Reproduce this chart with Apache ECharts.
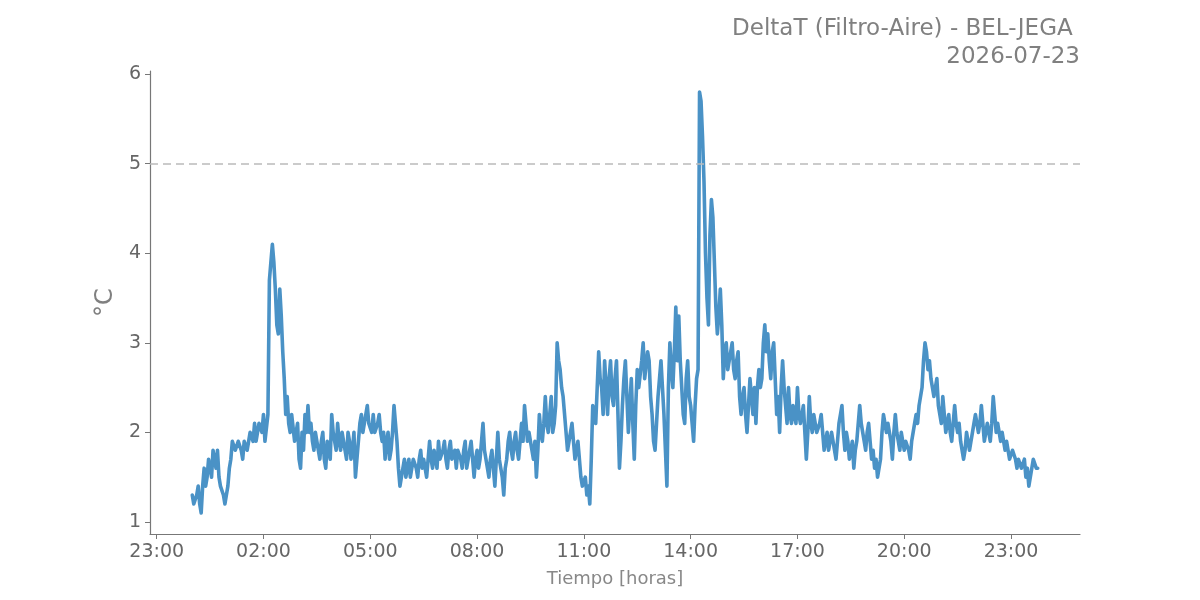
<!DOCTYPE html>
<html lang="es">
<head>
    <meta charset="UTF-8">
    <title>DeltaT</title>
    <style>
        body { margin: 0; background: #fff; }
        #chart { width: 1200px; height: 600px; }
    </style>
</head>
<body>
<div id="chart"></div>
<script src="https://cdn.jsdelivr.net/npm/echarts@6/dist/echarts.min.js"></script>
<script>
    // lecturas a las hh:00, hh:05, ... desde las 00:00
    const stepMin = 5;
    const madrugada = [   // 00:00 - 05:55
        1.3, 1.2, 1.4, 1.1, 1.6, 1.5, 1.7, 1.8, 1.6, 1.5, 1.4, 1.2,
        1.4, 1.7, 1.9, 1.8, 1.9, 1.7, 1.9, 1.8, 2.0, 2.1, 1.9, 2.1,
        2.2, 1.9, 3.7, 4.1, 3.6, 3.1, 3.3, 2.6, 2.4, 2.0, 2.2, 1.9,
        1.7, 2.0, 2.2, 2.3, 2.1, 1.8, 2.0, 1.7, 2.0, 1.6, 1.9, 2.2,
        2.0, 2.1, 1.8, 2.0, 1.7, 1.9, 1.8, 1.5, 1.9, 2.2, 2.0, 2.3,
        2.1, 2.2, 2.0, 2.2, 1.9, 1.7, 2.0, 1.8, 2.3, 1.9, 1.4, 1.6
    ];
    const manana = [      // 06:00 - 11:55
        1.5, 1.7, 1.6, 1.7, 1.5, 1.8, 1.7, 1.5, 1.9, 1.6, 1.8, 1.9,
        1.7, 1.9, 1.6, 1.9, 1.7, 1.6, 1.8, 1.6, 1.9, 1.7, 1.9, 1.5,
        1.8, 1.7, 2.1, 1.7, 1.5, 1.8, 1.4, 2.0, 1.6, 1.3, 1.7, 2.0,
        1.7, 2.0, 1.7, 2.1, 2.3, 1.9, 2.0, 1.7, 1.5, 2.2, 1.9, 2.4,
        2.0, 2.4, 2.1, 3.0, 2.7, 2.4, 2.0, 1.8, 2.1, 1.7, 1.9, 1.5,
        1.4, 1.3, 1.2, 2.3, 2.1, 2.9, 2.5, 2.8, 2.2, 2.8, 2.3, 2.8
    ];
    const tarde = [       // 12:00 - 17:55
        1.6, 2.3, 2.8, 2.0, 2.6, 1.7, 2.7, 2.5, 3.0, 2.6, 2.8, 2.2,
        1.8, 2.4, 2.8, 2.2, 1.4, 3.0, 2.5, 3.4, 3.3, 2.5, 2.1, 2.8,
        2.3, 1.9, 2.6, 5.8, 5.3, 4.0, 3.2, 4.6, 3.9, 3.1, 3.6, 2.6,
        3.0, 2.7, 3.0, 2.6, 2.9, 2.2, 2.5, 2.0, 2.6, 2.2, 2.1, 2.7,
        2.6, 3.2, 3.1, 2.6, 3.0, 2.2, 2.0, 2.8, 2.3, 2.5, 2.1, 2.3,
        2.5, 2.1, 2.3, 1.7, 2.4, 2.0, 2.2, 2.0, 2.2, 1.8, 2.0, 1.8
    ];
    const noche = [       // 18:00 - 23:45
        1.9, 1.7, 2.1, 2.3, 1.8, 1.9, 1.7, 1.6, 1.9, 2.3, 2.0, 1.8,
        2.1, 1.7, 1.6, 1.5, 1.7, 2.2, 2.0, 2.1, 1.7, 2.2, 1.9, 2.0,
        1.8, 1.9, 1.7, 2.0, 2.2, 2.3, 2.5, 3.0, 2.7, 2.6, 2.4, 2.6,
        2.2, 2.4, 2.0, 2.2, 1.9, 2.3, 2.0, 1.9, 1.7, 2.0, 1.8, 2.0,
        2.2, 2.0, 2.3, 1.9, 2.1, 1.9, 2.4, 2.0, 2.1, 2.0, 1.8, 1.9,
        1.7, 1.8, 1.6, 1.7, 1.6, 1.5, 1.4, 1.6, 1.7, 1.6
    ];
    // lecturas intermedias (hh:02:30, hh:07:30, ...)
    const madrugadaMed = [
        1.2, 1.3, 1.2, 1.4, 1.4, 1.7, 1.5, 1.7, 1.8, 1.4, 1.3, 1.3,
        1.6, 1.9, 1.8, 1.9, 1.8, 1.9, 1.8, 2.0, 1.9, 1.9, 2.1, 2.0,
        1.9, 2.2, 3.9, 3.9, 3.2, 3.6, 2.9, 2.2, 2.1, 2.2, 1.9, 2.1,
        1.6, 1.8, 2.0, 2.0, 1.9, 2.0, 1.8, 1.9, 1.7, 1.9, 1.7, 2.0,
        1.8, 1.9, 2.0, 1.8, 2.0, 1.7, 2.0, 1.7, 2.1, 2.0, 2.2, 2.1,
        2.0, 2.0, 2.1, 2.0, 2.0, 1.9, 1.7, 2.0, 2.1, 1.6, 1.5, 1.7
    ];
    const mananaMed = [
        1.6, 1.5, 1.7, 1.6, 1.7, 1.6, 1.6, 1.7, 1.7, 1.8, 1.6, 1.7,
        1.8, 1.7, 1.8, 1.7, 1.8, 1.8, 1.7, 1.8, 1.6, 1.8, 1.7, 1.7,
        1.6, 1.9, 1.8, 1.6, 1.7, 1.6, 1.7, 1.7, 1.5, 1.6, 1.9, 1.8,
        1.9, 1.8, 1.9, 1.9, 2.1, 2.0, 1.8, 1.9, 1.8, 2.0, 2.1, 2.1,
        2.2, 2.0, 2.3, 2.8, 2.5, 2.2, 1.8, 2.0, 1.9, 1.8, 1.7, 1.4,
        1.5, 1.4, 1.7, 2.2, 2.5, 2.6, 2.2, 2.5, 2.6, 2.4, 2.6, 2.2
    ];
    const tardeMed = [
        1.9, 2.6, 2.4, 2.3, 2.1, 2.3, 2.5, 2.8, 2.6, 2.9, 2.4, 1.9,
        2.1, 2.6, 2.5, 1.8, 2.5, 2.7, 2.9, 2.8, 2.8, 2.2, 2.6, 2.4,
        2.1, 2.3, 2.7, 5.7, 4.8, 3.5, 4.2, 4.4, 3.4, 3.3, 3.2, 2.9,
        2.7, 2.9, 2.7, 2.8, 2.4, 2.4, 2.2, 2.3, 2.4, 2.5, 2.5, 2.5,
        3.0, 2.9, 2.8, 2.9, 2.6, 2.4, 2.5, 2.5, 2.1, 2.2, 2.3, 2.1,
        2.2, 2.2, 2.0, 2.0, 2.1, 2.2, 2.0, 2.1, 2.0, 1.9, 1.8, 2.0
    ];
    const nocheMed = [
        1.8, 1.9, 2.2, 2.0, 2.0, 1.7, 1.9, 1.8, 2.1, 2.1, 1.9, 2.0,
        1.9, 1.8, 1.7, 1.6, 2.0, 2.1, 2.1, 1.9, 2.0, 2.0, 1.8, 1.9,
        1.9, 1.8, 1.9, 2.1, 2.1, 2.4, 2.8, 2.9, 2.8, 2.5, 2.5, 2.3,
        2.1, 2.2, 2.1, 2.0, 2.1, 2.1, 2.1, 1.8, 1.8, 1.9, 1.9, 2.1,
        2.1, 2.1, 2.1, 2.0, 2.0, 2.1, 2.2, 2.1, 1.9, 1.9, 1.9, 1.7,
        1.8, 1.7, 1.7, 1.6, 1.7, 1.6, 1.5, 1.7, 1.6
    ];
    const umbral = 5;
    const tickHoras = [-1, 2, 5, 8, 11, 14, 17, 20, 23];
    const tickGrados = [1, 2, 3, 4, 5, 6];

    const valores = madrugada.concat(manana, tarde, noche);
    const medios = madrugadaMed.concat(mananaMed, tardeMed, nocheMed);
    const serie = [];
    valores.forEach((v, i) => {
        serie.push([i * stepMin / 60, v]);
        if (i < medios.length) serie.push([(i + 0.5) * stepMin / 60, medios[i]]);
    });

    const gris = '#666';
    const titulo = {
        type: 'text', right: 120,
        style: { align: 'right', fill: '#808080', fontSize: 23, fontFamily: 'DejaVu Sans' }
    };
    const chart = echarts.init(document.getElementById('chart'));
    chart.setOption({
        animation: false,
        textStyle: { fontFamily: 'DejaVu Sans' },
        grid: { left: 150, right: 120, top: 71, bottom: 66 },
        graphic: [
            echarts.util.merge({ top: 18, style: { text: 'DeltaT (Filtro-Aire) - BEL-JEGA ' } }, titulo),
            echarts.util.merge({ top: 46, style: { text: '2026-07-23' } }, titulo)
        ],
        xAxis: {
            type: 'value',
            min: -1.1875,
            max: 24.9375,
            name: 'Tiempo [horas]',
            nameLocation: 'middle',
            nameGap: 36,
            nameTextStyle: { color: '#888', fontSize: 18 },
            splitLine: { show: false },
            axisLine: { onZero: false, lineStyle: { color: '#777', width: 1.2 } },
            axisTick: { customValues: tickHoras, length: 5, lineStyle: { color: '#777' } },
            axisLabel: {
                customValues: tickHoras,
                color: gris, fontSize: 19, margin: 9,
                formatter: v => String((v + 24) % 24).padStart(2, '0') + ':00'
            }
        },
        yAxis: {
            type: 'value',
            min: 0.865,
            max: 6.035,
            name: '°C',
            nameLocation: 'middle',
            nameGap: 26,
            nameRotate: 90,
            nameTextStyle: { color: '#808080', fontSize: 24 },
            splitLine: { show: false },
            axisLine: { show: true, onZero: false, lineStyle: { color: '#777', width: 1.2 } },
            axisTick: { show: true, customValues: tickGrados, length: 5, lineStyle: { color: '#777' } },
            axisLabel: { customValues: tickGrados, color: gris, fontSize: 19, margin: 9 }
        },
        series: [{
            type: 'line',
            data: serie,
            showSymbol: false,
            lineStyle: { color: '#4a92c6', width: 3.6, cap: 'round', join: 'round' },
            markLine: {
                silent: true,
                symbol: 'none',
                label: { show: false },
                lineStyle: { color: '#bbb', type: [8, 5], width: 1.5 },
                data: [{ yAxis: umbral }]
            }
        }]
    });
</script>
</body>
</html>
